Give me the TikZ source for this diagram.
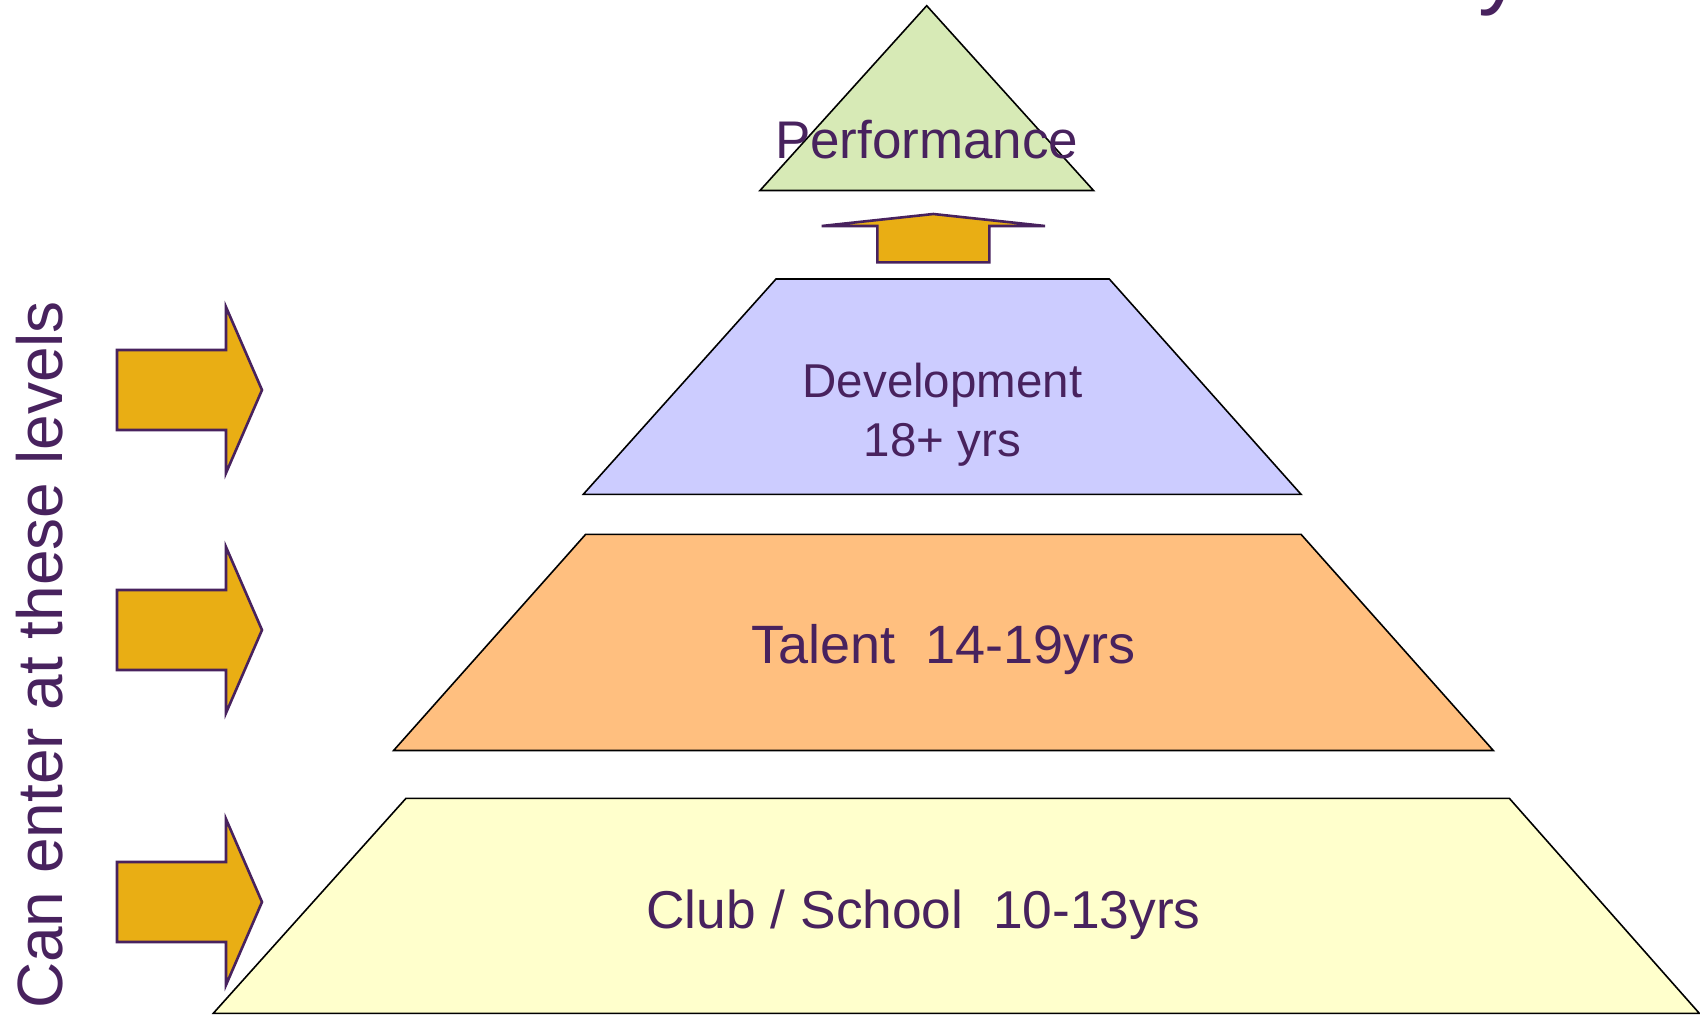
\documentclass[tikz,border=0pt]{standalone}
\usepackage{fontspec}
\setmainfont{Liberation Sans}
\definecolor{txtpurple}{RGB}{72,34,94}
\definecolor{arrowfill}{RGB}{233,174,20}
\definecolor{perffill}{RGB}{215,234,182}
\definecolor{devfill}{RGB}{204,204,255}
\definecolor{talfill}{RGB}{255,191,127}
\definecolor{clubfill}{RGB}{255,255,204}
\tikzset{
  level/.style={draw=black, line width=1.6pt, line join=miter},
  bigarrow/.style={draw=txtpurple, fill=arrowfill, line width=2.6pt, line join=miter},
  lbl/.style={text=txtpurple, inner sep=0pt, anchor=base},
}
\begin{document}
\begin{tikzpicture}[x=1pt,y=-1pt]
\useasboundingbox (0,0) rectangle (1700,1015);
% partially visible title letter
\node[lbl, anchor=base west, font=\fontsize{90}{90}\selectfont] (titley) at (1478,-3) {y};
% pyramid levels
\draw[level, fill=perffill] (926.7,5.7) -- (1093.5,190.5) -- (760,190.5) -- cycle;
\draw[level, fill=devfill] (776,279) -- (1109.3,279) -- (1301,494.3) -- (583.3,494.3) -- cycle;
\draw[level, fill=talfill] (585.7,534.3) -- (1301,534.3) -- (1493.3,750.5) -- (393.6,750.5) -- cycle;
\draw[level, fill=clubfill] (406,798.3) -- (1509.3,798.3) -- (1699.3,1013.3) -- (213.3,1013.3) -- cycle;
% up arrow
\draw[bigarrow] (877.3,262.3) -- (877.3,226) -- (821.7,226) -- (933.3,214) -- (1045,226) -- (989.3,226) -- (989.3,262.3) -- cycle;
% entry arrows
\foreach \t in {390,630,902}{
  \draw[bigarrow] (117,\t-40) -- (226,\t-40) -- (226,\t-83) -- (262,\t) -- (226,\t+83) -- (226,\t+40) -- (117,\t+40) -- cycle;
}
% labels
\node[lbl, font=\fontsize{53}{53}\selectfont] (perf) at (926.7,158.3) {Performance};
\node[lbl, font=\fontsize{47.5}{47.5}\selectfont] (dev1) at (942.5,397.8) {Development};
\node[lbl, font=\fontsize{47.5}{47.5}\selectfont] (dev2) at (942.5,456) {18+ yrs};
\node[lbl, font=\fontsize{54}{54}\selectfont] (tal) at (943.3,663) {Talent\ \ 14-19yrs};
\node[lbl, font=\fontsize{53.3}{53.3}\selectfont] (club) at (923.5,928.5) {Club / School\ \ 10-13yrs};
\node[lbl, rotate=90, font=\fontsize{64}{64}\selectfont] (enter) at (62,655) {Can enter at these levels};
\end{tikzpicture}
\end{document}
